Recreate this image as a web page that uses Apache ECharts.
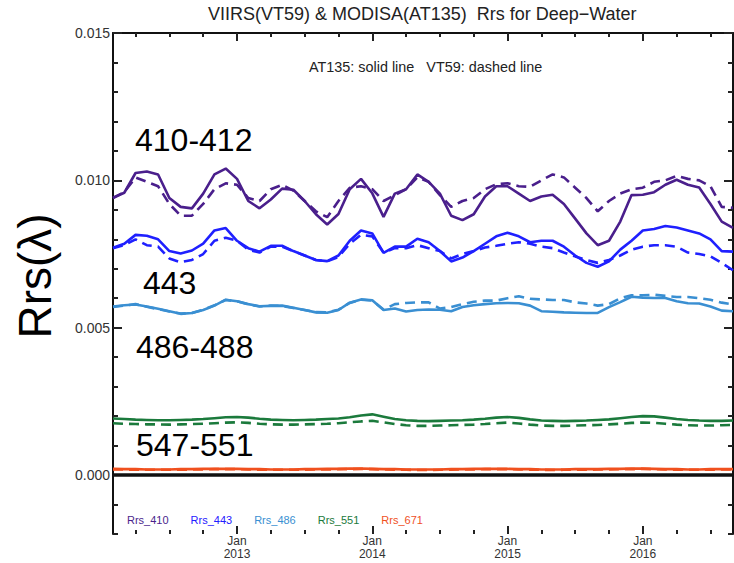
<!DOCTYPE html>
<html>
<head>
<meta charset="utf-8">
<script src="https://cdn.jsdelivr.net/npm/echarts@6/dist/echarts.min.js"></script>
<style>html,body{margin:0;padding:0;background:#fff;}#chart{width:734px;height:563px;}</style>
</head>
<body>
<div id="chart"></div>
<script>
// Months (Feb 2012 .. Sep 2016)
const months = ["2012-02","2012-03","2012-04","2012-05","2012-06","2012-07","2012-08","2012-09","2012-10","2012-11","2012-12",
"2013-01","2013-02","2013-03","2013-04","2013-05","2013-06","2013-07","2013-08","2013-09","2013-10","2013-11","2013-12",
"2014-01","2014-02","2014-03","2014-04","2014-05","2014-06","2014-07","2014-08","2014-09","2014-10","2014-11","2014-12",
"2015-01","2015-02","2015-03","2015-04","2015-05","2015-06","2015-07","2015-08","2015-09","2015-10","2015-11","2015-12",
"2016-01","2016-02","2016-03","2016-04","2016-05","2016-06","2016-07","2016-08","2016-09"];

// Rrs values in units of 1e-3 sr^-1; AT135 = MODISA (solid), VT59 = VIIRS (dashed)
const at135_410 = [9.41,9.58,10.25,10.3,10.2,9.4,9.1,9.05,9.55,10.2,10.4,10.05,9.3,9.05,9.35,9.72,9.68,9.3,8.85,8.5,8.86,9.7,10.05,9.56,8.76,9.55,9.7,10.2,9.95,9.55,8.8,8.65,8.85,9.45,9.8,9.8,9.55,9.3,9.45,9.51,9.2,8.7,8.2,7.8,7.95,8.6,9.5,9.51,9.6,9.85,10.02,9.85,9.76,9.2,8.6,8.39];
const vt59_410 = [9.4,9.6,10.1,9.95,9.8,9.2,8.8,8.8,9.2,9.7,9.9,9.85,9.4,9.3,9.7,9.85,9.65,9.3,8.95,8.75,9.3,9.75,9.8,9.7,9.3,9.5,9.7,10.1,9.95,9.5,9.1,9.3,9.4,9.7,9.87,9.9,9.8,9.78,10.0,10.2,10.1,9.75,9.4,8.95,9.3,9.55,9.7,9.75,9.95,10.0,10.15,10.05,10.0,9.8,9.1,9.07];
const at135_443 = [7.71,7.85,8.15,8.12,8.0,7.6,7.52,7.62,7.85,8.3,8.38,7.95,7.7,7.58,7.78,7.78,7.6,7.45,7.3,7.26,7.45,7.95,8.3,8.2,7.54,7.75,7.75,8.02,7.9,7.6,7.25,7.38,7.6,7.85,8.1,8.22,8.1,7.9,7.95,7.95,7.75,7.45,7.2,7.07,7.25,7.65,7.95,8.3,8.35,8.45,8.4,8.3,8.2,8.0,7.6,7.58];
const vt59_443 = [7.7,7.8,8.0,7.8,7.75,7.35,7.22,7.3,7.5,7.95,8.05,7.95,7.65,7.55,7.75,7.75,7.6,7.45,7.3,7.25,7.4,7.85,8.15,8.1,7.55,7.7,7.7,7.8,7.7,7.6,7.35,7.5,7.6,7.72,7.78,7.85,7.9,7.85,7.75,7.7,7.55,7.42,7.3,7.2,7.3,7.45,7.65,7.75,7.8,7.8,7.75,7.55,7.5,7.42,7.2,6.95];
const at135_486 = [5.72,5.76,5.79,5.72,5.64,5.56,5.47,5.5,5.6,5.75,5.95,5.9,5.8,5.73,5.74,5.75,5.68,5.6,5.52,5.51,5.6,5.85,5.96,5.93,5.6,5.65,5.55,5.6,5.62,5.61,5.56,5.7,5.76,5.8,5.83,5.84,5.83,5.75,5.56,5.54,5.52,5.51,5.5,5.5,5.7,5.87,6.05,6.02,6.01,6.01,5.9,5.83,5.82,5.72,5.58,5.56];
const vt59_486 = [5.7,5.75,5.8,5.71,5.63,5.55,5.48,5.5,5.61,5.76,5.94,5.9,5.79,5.72,5.75,5.74,5.67,5.6,5.53,5.52,5.61,5.84,5.95,5.92,5.62,5.8,5.84,5.86,5.86,5.65,5.7,5.8,5.88,5.92,5.92,6.0,6.07,5.98,5.96,5.94,5.94,5.86,5.82,5.75,5.8,6.0,6.1,6.1,6.12,6.08,6.04,6.04,6.0,5.95,5.85,5.79];
const at135_551 = [1.92,1.9,1.88,1.87,1.86,1.86,1.87,1.88,1.9,1.93,1.96,1.97,1.95,1.91,1.88,1.87,1.86,1.87,1.88,1.9,1.92,1.96,2.02,2.06,1.98,1.9,1.86,1.84,1.83,1.84,1.85,1.86,1.88,1.91,1.95,1.97,1.94,1.89,1.85,1.84,1.83,1.84,1.85,1.87,1.89,1.93,1.97,2.0,1.99,1.95,1.9,1.87,1.85,1.84,1.84,1.85];
const vt59_551 = [1.76,1.74,1.73,1.72,1.72,1.71,1.72,1.73,1.74,1.76,1.78,1.79,1.77,1.74,1.72,1.71,1.71,1.72,1.73,1.74,1.76,1.79,1.82,1.84,1.79,1.73,1.69,1.67,1.67,1.68,1.69,1.7,1.71,1.73,1.76,1.78,1.75,1.71,1.68,1.67,1.67,1.68,1.69,1.7,1.72,1.74,1.77,1.78,1.77,1.74,1.71,1.69,1.68,1.68,1.69,1.7];
const at135_671 = [0.21,0.2,0.2,0.19,0.19,0.19,0.2,0.2,0.21,0.21,0.21,0.21,0.2,0.2,0.19,0.19,0.19,0.2,0.2,0.21,0.21,0.22,0.22,0.21,0.2,0.2,0.19,0.19,0.19,0.19,0.2,0.2,0.21,0.21,0.21,0.21,0.2,0.2,0.19,0.19,0.19,0.2,0.2,0.2,0.21,0.21,0.22,0.22,0.21,0.2,0.2,0.19,0.19,0.2,0.2,0.2];
const vt59_671 = [0.19,0.19,0.18,0.18,0.18,0.18,0.18,0.19,0.19,0.2,0.2,0.2,0.19,0.18,0.18,0.18,0.18,0.18,0.19,0.19,0.2,0.2,0.21,0.2,0.19,0.18,0.18,0.17,0.17,0.18,0.18,0.19,0.19,0.2,0.2,0.2,0.19,0.18,0.18,0.17,0.18,0.18,0.18,0.19,0.19,0.2,0.2,0.21,0.2,0.19,0.18,0.18,0.18,0.18,0.19,0.19];

const bandNames = ["Rrs_410","Rrs_443","Rrs_486","Rrs_551","Rrs_671"];
const bandColors = ["#4a1f8c","#1f20ff","#3a8fd2","#1b7a3c","#f0501e"];
const bandLabels = ["410-412","443","486-488","547-551"];

// y tick values (units of 1e-3)
const yTickValues = ["-2","-1","0","1","2","3","4","5","6","7","8","9","10","11","12","13","14","15"];

const FONT = "Liberation Sans, Arial, sans-serif";
function monthIndex(s){ const p=s.split("-"); return (+p[0]-2012)*12 + (+p[1]-1); }
function pairs(vals){ return vals.map((v,i)=>[monthIndex(months[i]), v]); }
const isQuarter = (i, v) => monthIndex(v) % 3 === 0;
const isJan = (i, v) => monthIndex(v) % 12 === 0;
const isMajorY = (i, v) => (+v) % 5 === 0;

const solid = [at135_410, at135_443, at135_486, at135_551, at135_671];
const dashed = [vt59_410, vt59_443, vt59_486, vt59_551, vt59_671];

const series = [];
for (let k = 0; k < 5; k++) {
  series.push({
    name: bandNames[k] + " VT59", type: "line", data: pairs(dashed[k]), symbol: "none",
    lineStyle: { color: bandColors[k], width: 2.6, type: [10, 6] }, itemStyle: { color: bandColors[k] },
    z: 3, silent: true, animation: false
  });
}
for (let k = 0; k < 5; k++) {
  series.push({
    name: bandNames[k], type: "line", data: pairs(solid[k]), symbol: "none",
    lineStyle: { color: bandColors[k], width: 2.6 }, itemStyle: { color: bandColors[k] },
    z: 4, silent: true, animation: false
  });
}
// zero line
series.push({
  name: "zero", type: "line", data: [], silent: true, animation: false,
  markLine: { silent: true, symbol: "none", label: { show: false },
    lineStyle: { color: "#111", width: 3.5, type: "solid" }, data: [{ yAxis: 0 }] },
  z: 2
});

const X_MIN = monthIndex(months[0]), X_MAX = monthIndex(months[months.length - 1]);
const Y_MIN = -2, Y_MAX = 15;
const lineOn = { show: true, lineStyle: { color: "#111", width: 2 } };
const tickStyle = { color: "#222", width: 2 };
const xLabelBase = { fontFamily: FONT, fontSize: 12, lineHeight: 12, color: "#333" };

function xCat(pos, tickFn, len, label) {
  return {
    type: "category", position: pos, data: months, boundaryGap: false,
    axisLine: { show: false },
    axisTick: { show: !!tickFn, inside: true, length: len, interval: tickFn || 0, lineStyle: tickStyle },
    axisLabel: label ? Object.assign({ show: true, interval: isJan }, label) : { show: false },
    splitLine: { show: false }
  };
}
function yCat(pos, tickFn, len, label) {
  return {
    type: "category", position: pos, data: yTickValues, boundaryGap: false,
    axisLine: { show: false },
    axisTick: { show: true, inside: true, length: len, interval: tickFn, lineStyle: tickStyle },
    axisLabel: label ? { show: true, interval: isMajorY, margin: 3, color: "#333", fontFamily: FONT, fontSize: 14,
      formatter: v => (+v / 1000).toFixed(3) } : { show: false },
    splitLine: { show: false }
  };
}

const option = {
  backgroundColor: "#fff",
  animation: false,
  grid: { left: 113, right: 1, top: 33, bottom: 29, containLabel: false },
  title: [
    { text: "VIIRS(VT59) & MODISA(AT135)  Rrs for Deep\u2212Water", left: 208, top: 5, padding: 0,
      textStyle: { fontFamily: FONT, fontSize: 18, fontWeight: "normal", color: "#222" } },
    { text: "AT135: solid line   VT59: dashed line", left: 309, top: 60, padding: 0,
      textStyle: { fontFamily: FONT, fontSize: 14.4, fontWeight: "normal", color: "#222" } }
  ],
  legend: {
    data: bandNames.map((n, k) => ({ name: n, textStyle: { color: bandColors[k] } })),
    left: 121, top: 514, itemWidth: 0, itemHeight: 0, itemGap: 16, padding: 0, selectedMode: false,
    textStyle: { fontFamily: FONT, fontSize: 11 }
  },
  xAxis: [
    { type: "value", position: "bottom", min: X_MIN, max: X_MAX, axisLine: lineOn,
      axisTick: { show: false }, axisLabel: { show: false }, splitLine: { show: false } },
    xCat("bottom", isQuarter, 4, null),
    xCat("bottom", isJan, 8, Object.assign({ margin: 1, formatter: () => "Jan" }, xLabelBase)),
    xCat("bottom", null, 0, Object.assign({ margin: 14, formatter: v => v.slice(0, 4) }, xLabelBase)),
    xCat("top", isQuarter, 4, null),
    Object.assign(xCat("top", isJan, 8, null), { axisLine: lineOn })
  ],
  yAxis: [
    { type: "value", position: "left", min: Y_MIN, max: Y_MAX, axisLine: lineOn,
      axisTick: { show: false }, axisLabel: { show: false }, splitLine: { show: false } },
    yCat("left", 0, 5, false),
    yCat("left", isMajorY, 9, true),
    yCat("right", 0, 5, false),
    Object.assign(yCat("right", isMajorY, 9, false), { axisLine: lineOn })
  ],
  graphic: [
    { type: "text", x: 35, y: 276, rotation: Math.PI / 2,
      style: { text: "Rrs(\u03bb)", fontFamily: FONT, fontSize: 46, fill: "#000", textAlign: "center", textVerticalAlign: "middle" } },
    { type: "text", x: 135, y: 140, style: { text: bandLabels[0], fontFamily: FONT, fontSize: 32, fill: "#000", textAlign: "left", textVerticalAlign: "middle" } },
    { type: "text", x: 143, y: 283, style: { text: bandLabels[1], fontFamily: FONT, fontSize: 32, fill: "#000", textAlign: "left", textVerticalAlign: "middle" } },
    { type: "text", x: 136, y: 347, style: { text: bandLabels[2], fontFamily: FONT, fontSize: 32, fill: "#000", textAlign: "left", textVerticalAlign: "middle" } },
    { type: "text", x: 136, y: 445, style: { text: bandLabels[3], fontFamily: FONT, fontSize: 32, fill: "#000", textAlign: "left", textVerticalAlign: "middle" } }
  ],
  series: series
};

const chart = echarts.init(document.getElementById("chart"), null, { renderer: "svg" });
chart.setOption(option);
</script>
</body>
</html>
